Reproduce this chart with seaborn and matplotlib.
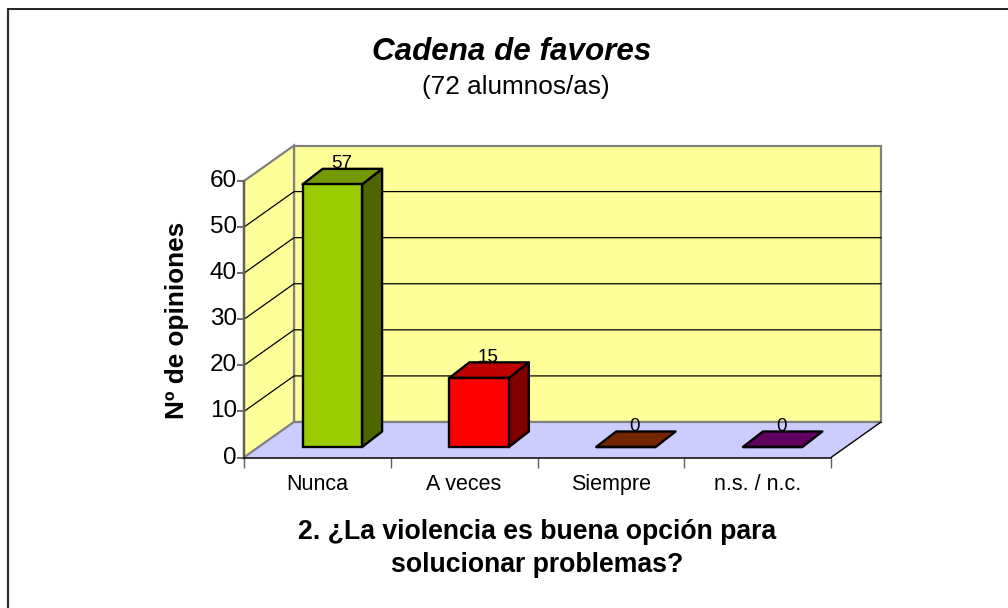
import matplotlib
matplotlib.use("Agg")
import matplotlib.pyplot as plt
from matplotlib.colors import to_rgb
from matplotlib.lines import Line2D
from matplotlib.patches import Polygon
from matplotlib.transforms import ScaledTranslation
import pandas as pd
import seaborn as sns

categories = ["Nunca", "A veces", "Siempre", "n.s. / n.c."]
values = [57, 15, 0, 0]
colors = ["#99CC00", "#FF0000", "#993300", "#800080"]
y_ticks = [0, 10, 20, 30, 40, 50, 60]
title = "Cadena de favores"
subtitle = "(72 alumnos/as)"
x_label = "2. ¿La violencia es buena opción para\nsolucionar problemas?"
y_label = "Nº de opiniones"

W, H = 1008, 608
sns.set_theme(style="white")
plt.rcParams["font.family"] = ["Liberation Sans", "DejaVu Sans"]
plt.rcParams["text.color"] = "black"
plt.rcParams["axes.labelcolor"] = "black"
plt.rcParams["xtick.labelcolor"] = "black"
plt.rcParams["ytick.labelcolor"] = "black"

fig = plt.figure(figsize=(W / 100, H / 100), dpi=100, facecolor="white")
L, R, T, B = 244, 831, 181, 457.5
ax = fig.add_axes([L / W, 1 - B / H, (R - L) / W, (B - T) / H])
ax.patch.set_alpha(0)

df = pd.DataFrame({"cat": categories, "val": values})
sns.barplot(data=df, x="cat", y="val", hue="cat", palette=colors, saturation=1,
            width=0.405, legend=False, edgecolor="black", linewidth=1.7, ax=ax, zorder=4)
ax.set_xlim(-0.5, 3.5)
ax.set_ylim(0, 60)

PX = 4 / (R - L)           # data units per pixel, x
PY = 60 / (B - T)          # data units per pixel, y
WX, WY = 50 * PX, 35.5 * PY    # full depth of the box
def_line = dict(clip_on=False)

x0, x1 = -0.5, 3.5
y0, y1 = 0, 60
# walls and floor
ax.add_patch(Polygon([(x0 + WX, y0 + WY), (x1 + WX, y0 + WY), (x1 + WX, y1 + WY), (x0 + WX, y1 + WY)],
                     fc="#FFFF99", ec="#808080", lw=1.6, zorder=1, **def_line))
ax.add_patch(Polygon([(x0, y0), (x0 + WX, y0 + WY), (x0 + WX, y1 + WY), (x0, y1)],
                     fc="#FFFF99", ec="#808080", lw=1.6, zorder=1, **def_line))
ax.add_patch(Polygon([(x0, y0), (x1, y0), (x1 + WX, y0 + WY), (x0 + WX, y0 + WY)],
                     fc="#CCCCFF", ec="none", zorder=1.5, **def_line))
ax.plot([x0 + WX, x1 + WX], [y0 + WY, y0 + WY], color="#808080", lw=1.6, zorder=1.6, **def_line)
ax.plot([x0, x0 + WX], [y0, y0 + WY], color="#808080", lw=1.4, zorder=1.6, **def_line)
ax.plot([x1, x1 + WX], [y0, y0 + WY], color="black", lw=1.0, zorder=1.6, **def_line)
# grid
for v in y_ticks[1:-1]:
    ax.plot([x0, x0 + WX, x1 + WX], [v, v + WY, v + WY], color="black", lw=0.9, zorder=1.2, **def_line)

# bars: shift the seaborn rectangles into the box and add depth faces
SX, SY = 15 * PX, 10.5 * PY
BX, BY = 20 * PX, 15.5 * PY
for patch, col, v in zip([p for p in ax.patches if p.get_zorder() == 4], colors, values):
    patch.set_x(patch.get_x() + SX)
    patch.set_y(patch.get_y() + SY)
    patch.set_clip_on(False)
    a, b = patch.get_x(), patch.get_x() + patch.get_width()
    c, d = patch.get_y(), patch.get_y() + patch.get_height()
    rgb = to_rgb(col)
    top = tuple(0.75 * k for k in rgb)
    side = tuple(0.5 * k for k in rgb)
    if v > 0:
        ax.add_patch(Polygon([(b, c), (b + BX, c + BY), (b + BX, d + BY), (b, d)],
                             fc=side, ec="black", lw=1.7, zorder=3.5, joinstyle="round", **def_line))
    ax.add_patch(Polygon([(a, d), (b, d), (b + BX, d + BY), (a + BX, d + BY)],
                         fc=top, ec="black", lw=1.7, zorder=3.6, joinstyle="round", **def_line))
    ax.text((a + b) / 2 + BX / 2 - 1 * PX, d + BY - 0.7, str(v), ha="center", va="bottom",
            fontsize=13.5, color="black", zorder=6, clip_on=False)

# axes
for s in ("top", "right"):
    ax.spines[s].set_visible(False)
ax.spines["left"].set_color("#606060")
ax.spines["left"].set_linewidth(1.7)
ax.spines["bottom"].set_color("black")
ax.spines["bottom"].set_linewidth(1.1)
for s in ("left", "bottom"):
    ax.spines[s].set_zorder(7)
ax.set_yticks(y_ticks)
ax.tick_params(axis="y", length=5, width=1.3, color="#606060", labelsize=17.5, pad=0, left=True)
shift = ScaledTranslation(0, 2.5 / 100, fig.dpi_scale_trans)
for lbl in ax.get_yticklabels():
    lbl.set_transform(lbl.get_transform() + shift)
ax.set_xticks(range(len(categories)))
ax.set_xticklabels(categories)
ax.set_xticks([i - 0.5 for i in range(len(categories) + 1)], minor=True)
ax.tick_params(axis="x", which="major", length=0, labelsize=15.5, pad=12)
ax.tick_params(axis="x", which="minor", length=7, width=1, color="#606060", bottom=True)
ax.set_xlabel(x_label, fontsize=19.2, fontweight="bold", labelpad=17, linespacing=1.38,
              x=(537 - L) / (R - L))
ax.set_ylabel(y_label, fontsize=18.8, fontweight="bold", labelpad=15, y=(B - 320) / (B - T))

fig.text(512 / W, 1 - 51.5 / H, title, fontsize=22.6, fontweight="bold", fontstyle="italic",
         ha="center", va="center", color="black")
fig.text(516 / W, 1 - 87 / H, subtitle, fontsize=18.8, ha="center", va="center", color="black")

fig.add_artist(Line2D([8 / W, 8 / W], [0, 1 - 9 / H], color="#303030", lw=1.6))
fig.add_artist(Line2D([8 / W, 1], [1 - 9 / H, 1 - 9 / H], color="#202020", lw=1.4))

fig.savefig("out.png", dpi=100)
